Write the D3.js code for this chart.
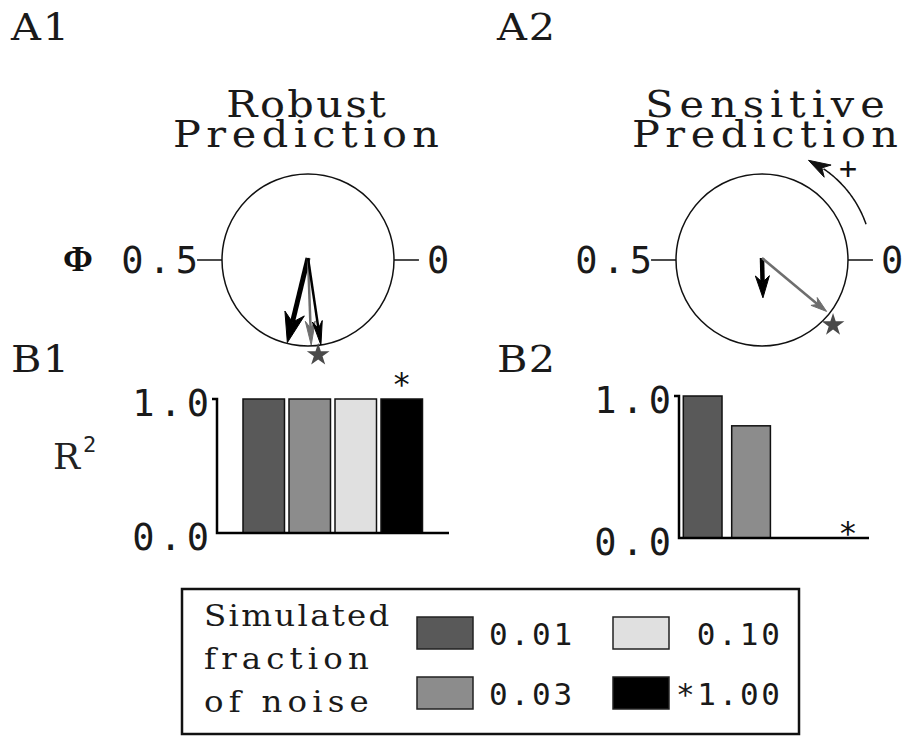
<!DOCTYPE html>
<html>
<head>
<meta charset="utf-8">
<script src="https://cdn.jsdelivr.net/npm/d3@7"></script>
<style>
  html, body { margin: 0; padding: 0; background: #ffffff; }
  svg { display: block; }
  .serif { font-family: "DejaVu Serif", "Liberation Serif", serif; }
  .num { font-family: "DejaVu Sans Mono", monospace; }
</style>
</head>
<body>
<div id="chart"></div>
<script>
// ---------------- DATA ----------------
const noiseLevels = ["0.01", "0.03", "0.10", "1.00"];
const noiseColors = ["#595959", "#8c8c8c", "#e0e0e0", "#000000"];

// B panels: R^2 per noise level
const r2Robust = [1.0, 1.0, 1.0, 1.0];
const r2Sensitive = [1.0, 0.79, 0.0, 0.0];
const r2Ticks = [0.0, 1.0];
const r2TickLabels = ["0.0", "1.0"];

// A panels: phase (cycles, 0 at right, counter-clockwise) and amplitude (fraction of radius)
const arrowsRobustPhase = [0.711, 0.756, 0.774];
const arrowsRobustAmp = [0.99, 0.99, 1.0];
const arrowsSensitivePhase = [0.754, 0.893];
const arrowsSensitiveAmp = [0.44, 0.96];
const starRobust = { phase: 0.767, amp: 1.11 };
const starSensitive = { phase: 0.882, amp: 1.12 };
const phaseTickValues = [0.5, 0];
const phaseTickLabels = ["0.5", "0"];

// ---------------- HELPERS ----------------
const W = 907, H = 736;
const svg = d3.select("#chart").append("svg").attr("width", W).attr("height", H);

// text with fixed per-character pitch (mimics a typewriter font):
// glyphs are widened a little, remaining room goes into letter spacing
function mono(parent, cls, str, x, y, size, pitch, anchor, maxScale) {
  const g = parent.append("g").attr("transform", `translate(${x},${y})`);
  const t = g.append("text").attr("class", cls).attr("x", 0).attr("y", 0)
    .attr("font-size", size).attr("fill", "#1a1a1a")
    .attr("text-anchor", anchor || "start").text(str);
  const target = str.length * pitch;
  const natural = t.node().getComputedTextLength() || target;
  const s = Math.max(1, Math.min(target / natural, maxScale || 1.12));
  g.attr("transform", `translate(${x},${y}) scale(${s},1)`);
  t.attr("textLength", target / s).attr("lengthAdjust", "spacing");
  return t;
}

// panel letters
[["A1", 11, 40], ["A2", 497, 40], ["B1", 11, 372], ["B2", 497, 372]].forEach(d => {
  mono(svg, "serif", d[0], d[1], d[2], 37, 29);
});

// titles
function title(lines, cx) {
  mono(svg, "serif", lines[0], cx, 117, 37, 26.6, "middle");
  mono(svg, "serif", lines[1], cx, 147, 37, 26.6, "middle");
}
title(["Robust", "Prediction"], 306);
title(["Sensitive", "Prediction"], 765);

// Phi label
svg.append("text").attr("x", 63).attr("y", 271).attr("font-family", "Liberation Serif, serif")
  .attr("font-weight", "bold").attr("font-size", 36).attr("fill", "#111").text("Φ");

function arrowHead(g, tip, dir, len, wid, color) {
  const px = -dir[1], py = dir[0];
  const b = [tip[0] - dir[0] * len, tip[1] - dir[1] * len];
  const n = [tip[0] - dir[0] * len * 0.7, tip[1] - dir[1] * len * 0.7];
  const pts = [tip, [b[0] + px * wid, b[1] + py * wid], n, [b[0] - px * wid, b[1] - py * wid]];
  g.append("path").attr("d", "M" + pts.map(p => p.join(",")).join("L") + "Z")
    .attr("fill", color).attr("stroke", color).attr("stroke-width", 1).attr("stroke-linejoin", "miter");
}

function phasePanel(cx, cy, R, phases, amps, styles, star) {
  const g = svg.append("g");
  const rScale = d3.scaleLinear().domain([0, 1]).range([0, R]);
  const ang = d3.scaleLinear().domain([0, 1]).range([0, 2 * Math.PI]);
  const pos = (ph, a) => [cx + rScale(a) * Math.cos(ang(ph)), cy - rScale(a) * Math.sin(ang(ph))];

  g.append("circle").attr("cx", cx).attr("cy", cy).attr("r", R)
    .attr("fill", "none").attr("stroke", "#111").attr("stroke-width", 1.5);

  phaseTickValues.forEach((v, i) => {
    const p0 = pos(v, 1), p1 = pos(v, 1.29);
    g.append("line").attr("x1", p0[0]).attr("y1", p0[1]).attr("x2", p1[0]).attr("y2", p1[1])
      .attr("stroke", "#111").attr("stroke-width", 1.5);
    const lp = pos(v, 1.29);
    mono(g, "num", phaseTickLabels[i], lp[0] + (v === 0 ? 8 : 1), lp[1] + 13, 37, 25.6,
      v === 0 ? "start" : "end", 1);
  });

  phases.forEach((ph, i) => {
    const st = styles[i];
    const tip = pos(ph, amps[i]);
    const dx = tip[0] - cx, dy = tip[1] - cy, L = Math.hypot(dx, dy);
    const dir = [dx / L, dy / L];
    const end = [tip[0] - dir[0] * st.head * 0.7, tip[1] - dir[1] * st.head * 0.7];
    g.append("line").attr("x1", cx).attr("y1", cy - 2).attr("x2", end[0]).attr("y2", end[1])
      .attr("stroke", st.color).attr("stroke-width", st.w).attr("stroke-linecap", "butt");
    arrowHead(g, tip, dir, st.head, st.hw, st.color);
  });

  const sp = pos(star.phase, star.amp);
  g.append("path").attr("d", d3.symbol().type(d3.symbolStar).size(160)())
    .attr("transform", `translate(${sp[0]},${sp[1]})`).attr("fill", "#4a4a4a");
}

phasePanel(308, 260, 86, arrowsRobustPhase, arrowsRobustAmp, [
  { color: "#000", w: 5, head: 30, hw: 10 },
  { color: "#6e6e6e", w: 2.5, head: 24, hw: 5 },
  { color: "#000", w: 2.5, head: 24, hw: 5 }
], starRobust);

phasePanel(762, 260, 86, arrowsSensitivePhase, arrowsSensitiveAmp, [
  { color: "#000", w: 4.5, head: 22, hw: 7 },
  { color: "#6e6e6e", w: 2.5, head: 16, hw: 5 }
], starSensitive);

// curved "+" arrow in A2
{
  const cx = 762, cy = 260, Rr = 110;
  const a0 = 19 * Math.PI / 180, a1 = 56 * Math.PI / 180;
  const pts = d3.range(0, 1.0001, 0.02).map(t => {
    const a = a0 + (a1 - a0) * t;
    return [cx + Rr * Math.cos(a), cy - Rr * Math.sin(a)];
  });
  svg.append("path").attr("d", d3.line()(pts)).attr("fill", "none")
    .attr("stroke", "#111").attr("stroke-width", 1.5);
  const at = 65 * Math.PI / 180;
  const tip = [cx + Rr * Math.cos(at), cy - Rr * Math.sin(at)];
  const last = pts[pts.length - 1];
  const dx = tip[0] - last[0], dy = tip[1] - last[1], L = Math.hypot(dx, dy);
  arrowHead(svg, tip, [dx / L, dy / L], 22, 7, "#111");
  svg.append("text").attr("class", "num").attr("x", 848).attr("y", 168).attr("dy", "0.36em")
    .attr("text-anchor", "middle").attr("font-size", 30).attr("fill", "#111").text("+");
}

// ---------------- BAR PANELS ----------------
function barPanel(x0, xEnd, yTop, yBot, values, bandRange, pIn, pOut, starGap) {
  const g = svg.append("g");
  const x = d3.scaleBand().domain(noiseLevels).range(bandRange).paddingInner(pIn).paddingOuter(pOut);
  const y = d3.scaleLinear().domain([0, 1]).range([yBot, yTop]);
  g.selectAll("rect").data(values.map((v, i) => ({ v, k: noiseLevels[i], c: noiseColors[i] })))
    .join("rect")
    .attr("x", d => x(d.k)).attr("width", x.bandwidth())
    .attr("y", d => y(d.v)).attr("height", d => y(0) - y(d.v))
    .attr("fill", d => d.c).attr("stroke", d => d.v > 0 ? "#111" : "none").attr("stroke-width", 1.5);
  g.append("path").attr("d", `M${x0 - 5},${y(1)}H${x0}V${y(0)}H${xEnd}`)
    .attr("fill", "none").attr("stroke", "#000").attr("stroke-width", 2.5);
  r2Ticks.forEach((t, i) => {
    mono(g, "num", r2TickLabels[i], x0 - 8, y(t) + 17, 37, 25.6, "end", 1);
  });
  const k = noiseLevels[3];
  g.append("text").attr("class", "num").attr("x", x(k) + x.bandwidth() / 2).attr("y", y(values[3]) - starGap)
    .attr("text-anchor", "middle").attr("font-size", 32).attr("fill", "#111").text("*");
}

barPanel(217, 449, 399, 533, r2Robust, [240.7, 424.8], 0.098, 0.05, 4);
barPanel(679, 869, 396, 538, r2Sensitive, [679, 871.5], 0.2, 0.089, -6);

// R^2 label
{
  const t = svg.append("text").attr("class", "serif").attr("x", 53).attr("y", 469)
    .attr("font-size", 36).attr("fill", "#222");
  t.append("tspan").text("R");
  t.append("tspan").attr("class", "num").attr("font-size", 22).attr("dy", -17).attr("dx", 3).text("2");
}

// ---------------- LEGEND ----------------
{
  const g = svg.append("g");
  g.append("rect").attr("x", 182).attr("y", 589).attr("width", 617).attr("height", 145)
    .attr("fill", "#fff").attr("stroke", "#111").attr("stroke-width", 2.5);
  const leftLines = ["Simulated", "fraction", "of noise"];
  leftLines.forEach((s, i) => {
    mono(g, "serif", s, 204, 626 + i * 43, 29, 20.6);
  });
  const sx = [417, 613, 417, 613];
  const sy = [617, 617, 677, 677];
  const order = [0, 2, 1, 3];
  order.forEach((ci, j) => {
    g.append("rect").attr("x", sx[j]).attr("y", sy[j]).attr("width", 56).attr("height", 32)
      .attr("fill", noiseColors[ci]).attr("stroke", "#222").attr("stroke-width", 1.5);
    const label = ci === 3 ? "*" + noiseLevels[ci] : noiseLevels[ci];
    mono(g, "num", label, j % 2 === 0 ? 489 : 780, sy[j] + 28, 31, 20.8,
      j % 2 === 0 ? "start" : "end", 1);
  });
}
</script>
</body>
</html>
